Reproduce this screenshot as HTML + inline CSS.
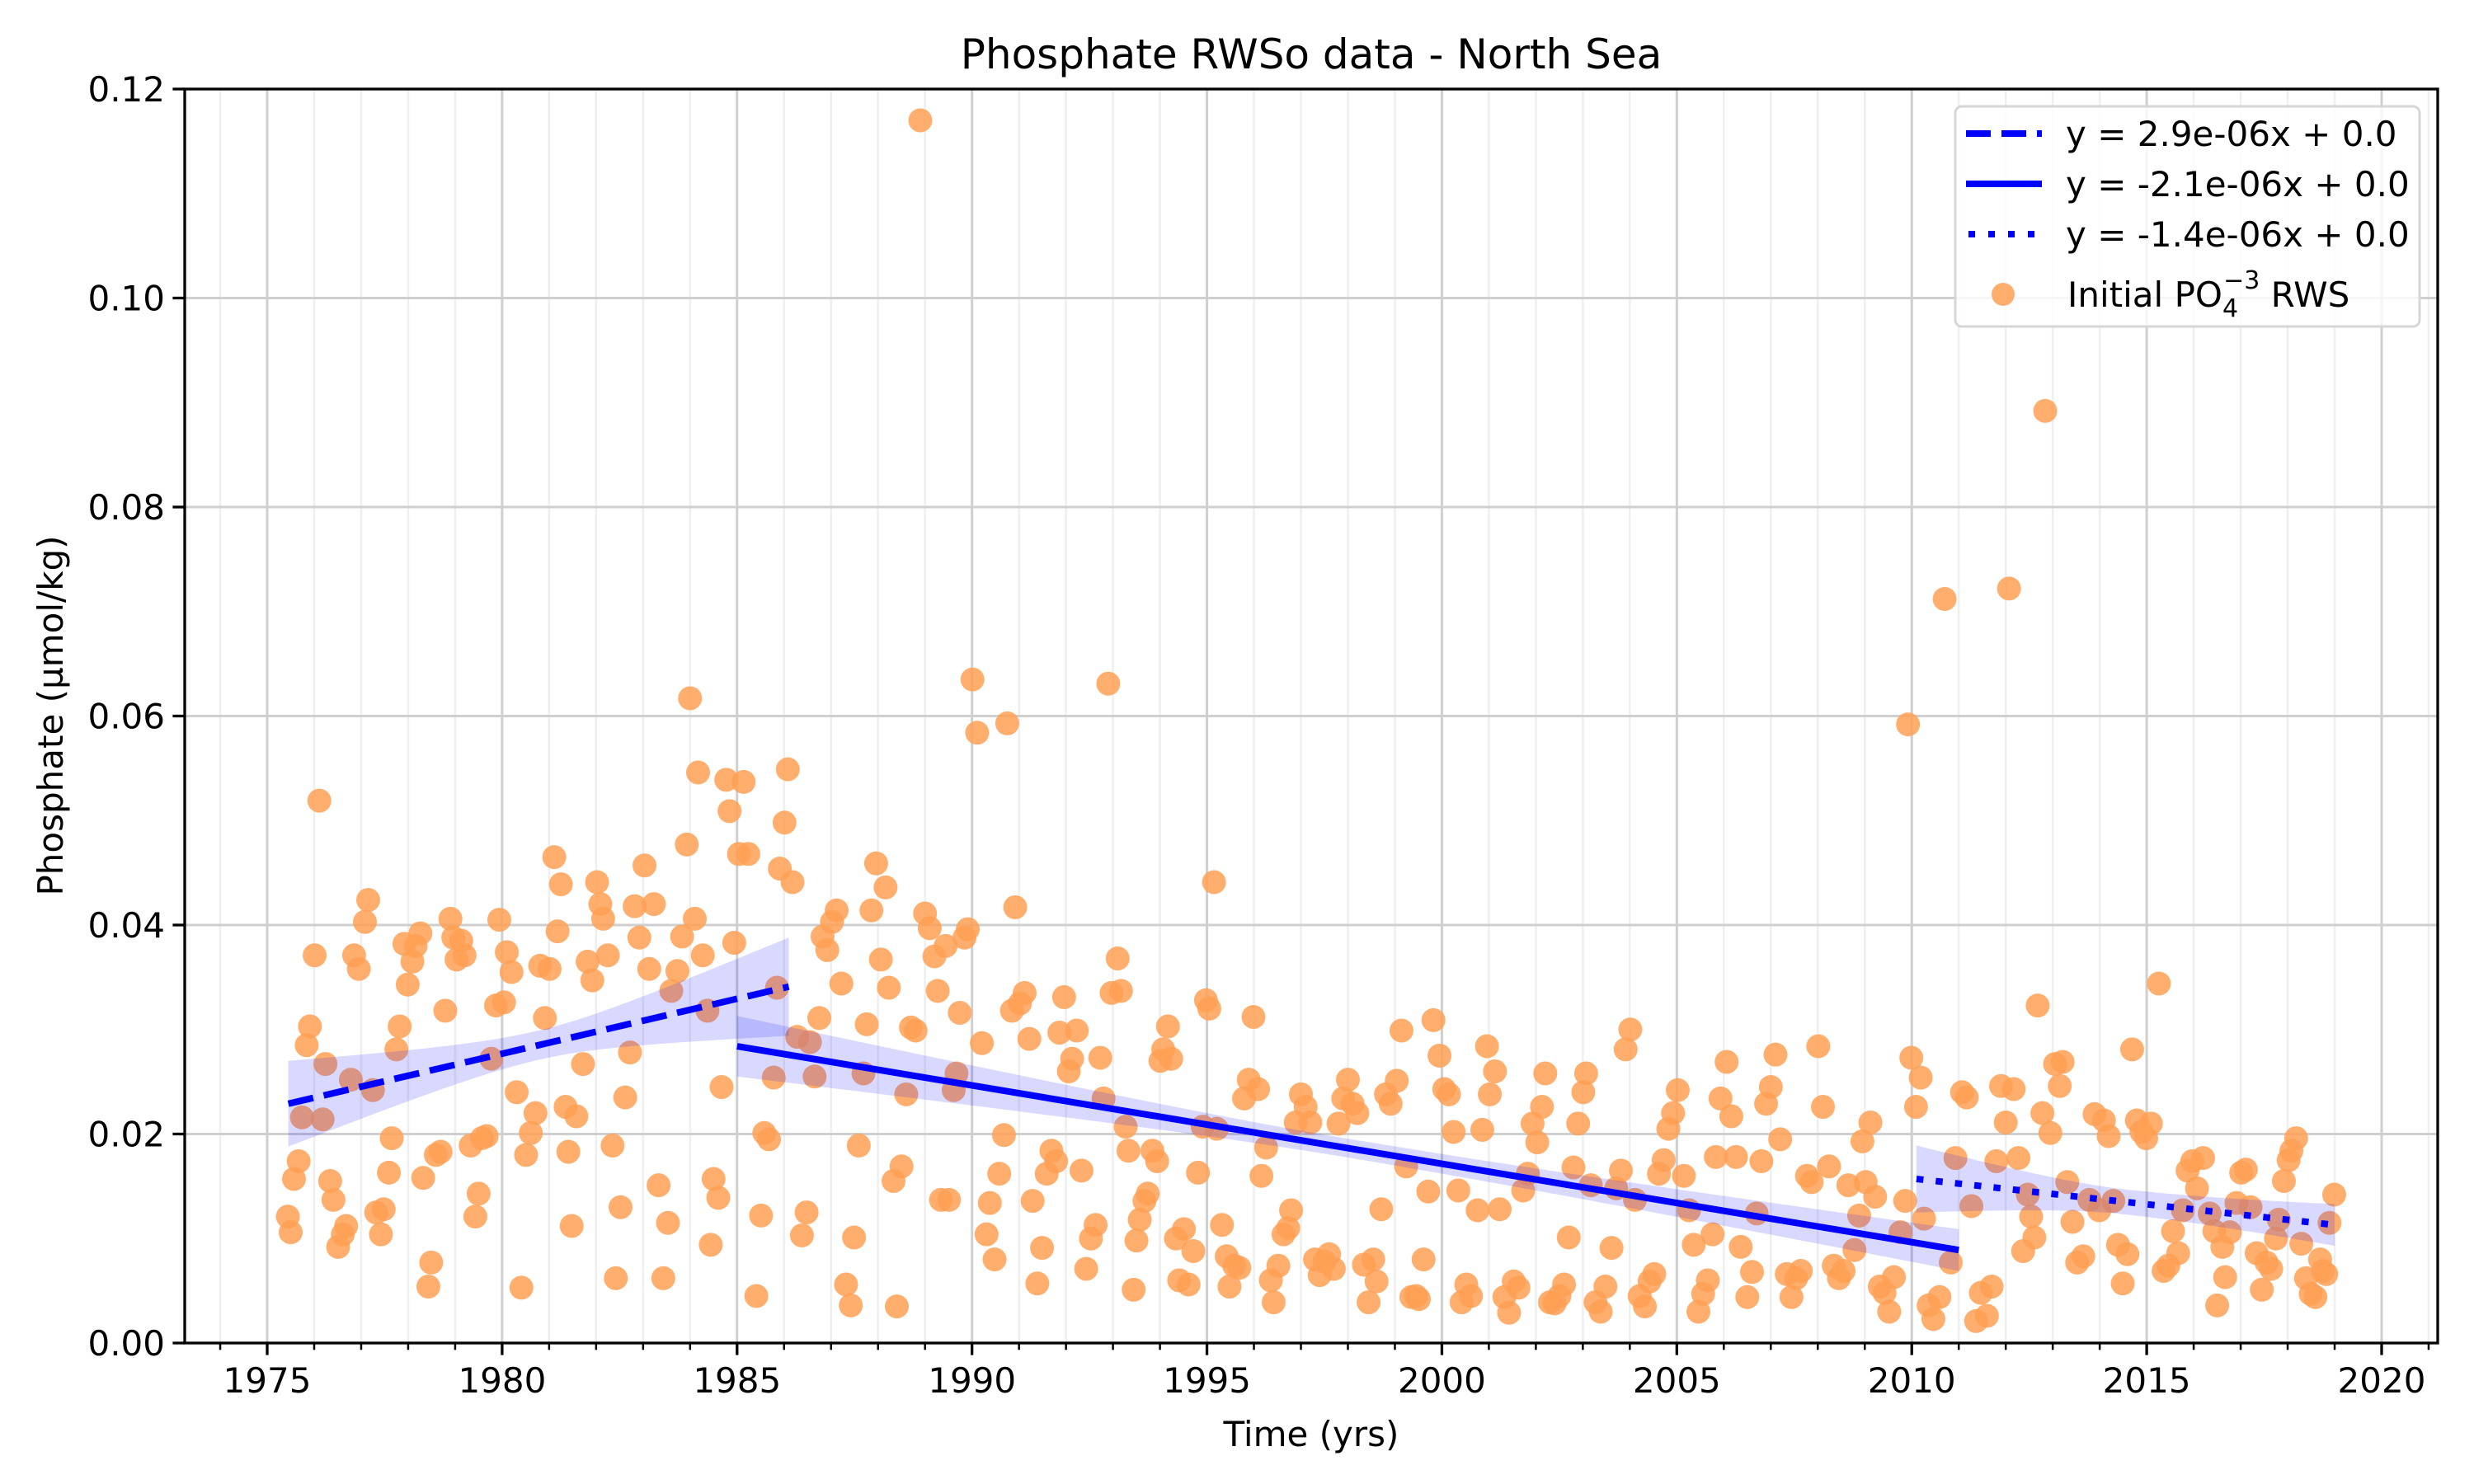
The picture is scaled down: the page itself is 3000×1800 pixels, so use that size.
<!DOCTYPE html>
<html><head><meta charset="utf-8"><style>
html,body{margin:0;padding:0;background:#fff}
svg{display:block;font-family:"DejaVu Sans","Liberation Sans",sans-serif}
</style></head><body>
<svg id="chart" xmlns="http://www.w3.org/2000/svg" width="3000" height="1800" viewBox="0 0 3000 1800">
<rect x="0" y="0" width="3000" height="1800" fill="#fff"/>
<g id="grid"></g>
<g id="points"></g>
<g id="bands"></g>
<g id="lines"></g>
<g id="axes"></g>
<text x="1590" y="83" font-size="50" text-anchor="middle">Phosphate RWSo data - North Sea</text>
<text x="1590" y="1754" font-size="42" text-anchor="middle">Time (yrs)</text>
<text x="0" y="0" font-size="42" text-anchor="middle" transform="translate(76,868) rotate(-90)">Phosphate (µmol/kg)</text>
<g id="legend">
<rect x="2371" y="129" width="563" height="267" rx="8" fill="#fff" fill-opacity="0.8" stroke="#d6d6d6" stroke-width="3"/>
<line x1="2384" y1="162" x2="2476" y2="162" stroke="#0000ff" stroke-width="8" stroke-dasharray="30 13"/>
<text x="2505" y="177" font-size="42">y = 2.9e-06x + 0.0</text>
<line x1="2384" y1="223" x2="2476" y2="223" stroke="#0000ff" stroke-width="8"/>
<text x="2505" y="238" font-size="42">y = -2.1e-06x + 0.0</text>
<line x1="2387" y1="284" x2="2476" y2="284" stroke="#0000ff" stroke-width="8" stroke-dasharray="8 16"/>
<text x="2505" y="299" font-size="42">y = -1.4e-06x + 0.0</text>
<circle cx="2429" cy="357" r="14" fill="rgb(255,160,85)" fill-opacity="0.85"/>
<text x="2507" y="372" font-size="42">Initial PO<tspan font-size="30" dy="12">4</tspan><tspan font-size="30" dx="-18" dy="-34">−3</tspan><tspan dy="22"> RWS</tspan></text>
</g>
</svg>
<script>
const years=[1975.44,1975.50,1975.57,1975.67,1975.74,1975.84,1975.91,1976.01,1976.11,1976.18,1976.24,1976.34,1976.41,1976.51,1976.61,1976.68,1976.78,1976.85,1976.95,1977.08,1977.15,1977.25,1977.32,1977.42,1977.48,1977.59,1977.65,1977.75,1977.82,1977.92,1977.99,1978.09,1978.16,1978.26,1978.32,1978.43,1978.49,1978.59,1978.69,1978.79,1978.90,1978.96,1979.03,1979.13,1979.20,1979.33,1979.43,1979.50,1979.57,1979.67,1979.77,1979.87,1979.94,1980.04,1980.10,1980.20,1980.31,1980.41,1980.51,1980.61,1980.71,1980.81,1980.91,1981.01,1981.11,1981.18,1981.25,1981.35,1981.41,1981.48,1981.58,1981.72,1981.82,1981.92,1982.02,1982.09,1982.15,1982.25,1982.35,1982.42,1982.52,1982.62,1982.72,1982.82,1982.92,1983.03,1983.13,1983.23,1983.33,1983.43,1983.53,1983.60,1983.73,1983.83,1983.93,1984.00,1984.10,1984.17,1984.27,1984.37,1984.44,1984.50,1984.60,1984.67,1984.77,1984.84,1984.94,1985.04,1985.14,1985.24,1985.41,1985.51,1985.58,1985.68,1985.78,1985.85,1985.91,1986.01,1986.08,1986.18,1986.28,1986.38,1986.48,1986.55,1986.65,1986.75,1986.82,1986.92,1987.02,1987.12,1987.22,1987.32,1987.42,1987.49,1987.59,1987.69,1987.76,1987.86,1987.96,1988.06,1988.16,1988.23,1988.33,1988.40,1988.50,1988.60,1988.70,1988.80,1988.90,1989.00,1989.10,1989.20,1989.27,1989.34,1989.44,1989.51,1989.61,1989.67,1989.74,1989.84,1989.91,1990.01,1990.11,1990.21,1990.31,1990.38,1990.48,1990.58,1990.68,1990.75,1990.85,1990.92,1991.02,1991.12,1991.22,1991.29,1991.39,1991.49,1991.59,1991.69,1991.79,1991.86,1991.96,1992.06,1992.13,1992.23,1992.33,1992.43,1992.53,1992.63,1992.73,1992.80,1992.90,1992.97,1993.10,1993.17,1993.27,1993.33,1993.44,1993.50,1993.57,1993.67,1993.74,1993.84,1993.94,1994.01,1994.07,1994.17,1994.24,1994.34,1994.41,1994.51,1994.61,1994.71,1994.81,1994.91,1994.98,1995.05,1995.15,1995.21,1995.32,1995.42,1995.48,1995.58,1995.69,1995.79,1995.89,1995.99,1996.09,1996.16,1996.26,1996.36,1996.42,1996.52,1996.63,1996.73,1996.79,1996.89,1997.00,1997.10,1997.20,1997.30,1997.40,1997.50,1997.60,1997.70,1997.80,1997.90,1998.00,1998.10,1998.20,1998.34,1998.44,1998.54,1998.61,1998.71,1998.81,1998.91,1999.04,1999.14,1999.24,1999.35,1999.45,1999.51,1999.61,1999.71,1999.82,1999.95,2000.05,2000.15,2000.25,2000.35,2000.42,2000.52,2000.62,2000.76,2000.86,2000.96,2001.02,2001.13,2001.23,2001.33,2001.43,2001.53,2001.63,2001.73,2001.83,2001.93,2002.03,2002.13,2002.20,2002.30,2002.40,2002.50,2002.60,2002.70,2002.80,2002.90,2003.01,2003.07,2003.17,2003.27,2003.38,2003.48,2003.61,2003.71,2003.81,2003.91,2004.01,2004.11,2004.21,2004.32,2004.42,2004.52,2004.62,2004.72,2004.82,2004.92,2005.02,2005.15,2005.26,2005.36,2005.46,2005.56,2005.66,2005.76,2005.83,2005.93,2006.06,2006.16,2006.26,2006.36,2006.50,2006.60,2006.70,2006.80,2006.90,2007.00,2007.10,2007.20,2007.34,2007.44,2007.54,2007.64,2007.77,2007.87,2008.01,2008.11,2008.24,2008.34,2008.45,2008.55,2008.65,2008.78,2008.88,2008.95,2009.02,2009.12,2009.22,2009.32,2009.42,2009.52,2009.62,2009.76,2009.86,2009.92,2009.99,2010.09,2010.19,2010.26,2010.36,2010.46,2010.59,2010.70,2010.83,2010.93,2011.07,2011.17,2011.27,2011.37,2011.47,2011.60,2011.70,2011.80,2011.90,2012.00,2012.07,2012.17,2012.27,2012.37,2012.47,2012.54,2012.61,2012.68,2012.78,2012.84,2012.95,2013.05,2013.15,2013.21,2013.31,2013.42,2013.52,2013.65,2013.78,2013.89,2013.99,2014.09,2014.19,2014.29,2014.39,2014.49,2014.59,2014.69,2014.79,2014.89,2014.99,2015.09,2015.26,2015.36,2015.46,2015.56,2015.67,2015.77,2015.87,2015.97,2016.07,2016.20,2016.34,2016.44,2016.50,2016.61,2016.67,2016.77,2016.91,2017.01,2017.11,2017.21,2017.34,2017.45,2017.55,2017.65,2017.75,2017.81,2017.92,2018.02,2018.08,2018.18,2018.29,2018.39,2018.49,2018.59,2018.69,2018.75,2018.82,2018.89,2018.99];
const phosphate=[0.0121,0.0106,0.0157,0.0174,0.0216,0.0285,0.0303,0.0371,0.0519,0.0214,0.0267,0.0155,0.0137,0.0092,0.0104,0.0112,0.0252,0.0371,0.0358,0.0403,0.0424,0.0242,0.0125,0.0104,0.0128,0.0163,0.0196,0.0281,0.0303,0.0382,0.0343,0.0365,0.0380,0.0392,0.0158,0.0054,0.0077,0.0180,0.0183,0.0318,0.0406,0.0388,0.0367,0.0385,0.0371,0.0189,0.0121,0.0143,0.0196,0.0198,0.0272,0.0323,0.0405,0.0326,0.0374,0.0355,0.0240,0.0053,0.0180,0.0201,0.0220,0.0361,0.0311,0.0358,0.0465,0.0394,0.0439,0.0226,0.0183,0.0112,0.0217,0.0267,0.0365,0.0347,0.0441,0.0420,0.0406,0.0371,0.0189,0.0062,0.0130,0.0235,0.0278,0.0418,0.0388,0.0457,0.0358,0.0420,0.0151,0.0062,0.0115,0.0337,0.0356,0.0389,0.0477,0.0617,0.0406,0.0546,0.0371,0.0318,0.0094,0.0157,0.0139,0.0245,0.0539,0.0509,0.0383,0.0468,0.0537,0.0468,0.0045,0.0122,0.0201,0.0195,0.0254,0.0340,0.0454,0.0498,0.0549,0.0441,0.0293,0.0103,0.0125,0.0288,0.0255,0.0311,0.0389,0.0376,0.0403,0.0414,0.0344,0.0056,0.0036,0.0101,0.0189,0.0258,0.0305,0.0414,0.0459,0.0367,0.0436,0.0340,0.0155,0.0035,0.0169,0.0238,0.0302,0.0299,0.1170,0.0411,0.0397,0.0370,0.0337,0.0137,0.0380,0.0137,0.0242,0.0258,0.0316,0.0388,0.0396,0.0635,0.0584,0.0287,0.0104,0.0134,0.0080,0.0162,0.0199,0.0593,0.0318,0.0417,0.0325,0.0335,0.0291,0.0136,0.0057,0.0091,0.0162,0.0184,0.0174,0.0297,0.0331,0.0260,0.0272,0.0299,0.0165,0.0071,0.0100,0.0113,0.0273,0.0234,0.0631,0.0335,0.0368,0.0337,0.0207,0.0184,0.0051,0.0098,0.0118,0.0136,0.0143,0.0184,0.0174,0.0270,0.0281,0.0303,0.0272,0.0100,0.0060,0.0109,0.0056,0.0088,0.0163,0.0207,0.0328,0.0320,0.0441,0.0205,0.0113,0.0083,0.0054,0.0074,0.0072,0.0234,0.0252,0.0312,0.0243,0.0160,0.0187,0.0060,0.0039,0.0074,0.0104,0.0110,0.0127,0.0211,0.0238,0.0226,0.0211,0.0080,0.0065,0.0078,0.0085,0.0071,0.0210,0.0234,0.0252,0.0229,0.0220,0.0075,0.0039,0.0080,0.0059,0.0128,0.0238,0.0229,0.0251,0.0299,0.0169,0.0044,0.0045,0.0042,0.0080,0.0145,0.0309,0.0275,0.0243,0.0238,0.0202,0.0146,0.0039,0.0056,0.0045,0.0127,0.0204,0.0284,0.0238,0.0260,0.0128,0.0044,0.0029,0.0059,0.0053,0.0146,0.0162,0.0210,0.0192,0.0226,0.0258,0.0039,0.0038,0.0045,0.0056,0.0101,0.0168,0.0210,0.0240,0.0258,0.0151,0.0039,0.0030,0.0054,0.0091,0.0148,0.0165,0.0281,0.0300,0.0137,0.0045,0.0035,0.0059,0.0066,0.0162,0.0175,0.0205,0.0220,0.0242,0.0160,0.0127,0.0094,0.0030,0.0047,0.0060,0.0104,0.0178,0.0234,0.0269,0.0217,0.0178,0.0092,0.0044,0.0068,0.0124,0.0174,0.0229,0.0245,0.0276,0.0195,0.0066,0.0044,0.0062,0.0069,0.0160,0.0154,0.0284,0.0226,0.0169,0.0074,0.0062,0.0069,0.0151,0.0089,0.0122,0.0193,0.0154,0.0211,0.0140,0.0054,0.0048,0.0030,0.0063,0.0106,0.0136,0.0592,0.0273,0.0226,0.0254,0.0119,0.0036,0.0023,0.0044,0.0712,0.0077,0.0177,0.0240,0.0235,0.0131,0.0021,0.0048,0.0026,0.0054,0.0174,0.0246,0.0211,0.0722,0.0243,0.0177,0.0088,0.0142,0.0121,0.0101,0.0323,0.0220,0.0892,0.0201,0.0267,0.0246,0.0269,0.0154,0.0116,0.0077,0.0083,0.0137,0.0219,0.0127,0.0213,0.0198,0.0136,0.0094,0.0057,0.0085,0.0281,0.0213,0.0202,0.0196,0.0210,0.0344,0.0069,0.0074,0.0107,0.0086,0.0127,0.0165,0.0174,0.0148,0.0177,0.0124,0.0107,0.0036,0.0092,0.0063,0.0106,0.0134,0.0163,0.0166,0.0130,0.0086,0.0051,0.0077,0.0071,0.0100,0.0118,0.0155,0.0175,0.0184,0.0196,0.0095,0.0062,0.0047,0.0044,0.0080,0.0069,0.0066,0.0115,0.0142];
const fitNames=['fit-1975-1986','fit-1985-2011','fit-2010-2019'];
const fitStartX=[1975.45,1985.0,2010.1];
const fitEndX=[1986.1,2011.0,2019.0];
const fitStartY=[0.0229,0.0284,0.0157];
const fitEndY=[0.0341,0.0089,0.0113];
const bandHalfStart=[0.0041,0.0029,0.0032];
const bandHalfMid=[0.0014,0.0009,0.0012];
const bandHalfEnd=[0.0047,0.0020,0.0020];
const xTickLabels=['1975','1980','1985','1990','1995','2000','2005','2010','2015','2020'];
const yTickLabels=['0.00','0.02','0.04','0.06','0.08','0.10','0.12'];

const NS='http://www.w3.org/2000/svg';
const L=224,R=2956,T=108,B=1629;
const X0=1975,X1=2020,PX0=324,PX1=2888;
const xs=v=>PX0+(v-X0)*(PX1-PX0)/(X1-X0);
const ys=v=>B-(v/0.12)*(B-T);
function mk(tag,attrs,parent){const e=document.createElementNS(NS,tag);for(const k in attrs)e.setAttribute(k,attrs[k]);parent.appendChild(e);return e;}
const grid=document.getElementById('grid'),axes=document.getElementById('axes');
const xMin=X0-(PX0-L)*(X1-X0)/(PX1-PX0),xMax=X0+(R-PX0)*(X1-X0)/(PX1-PX0);
for(let y=Math.ceil(xMin);y<=xMax;y++){
  const major=(y%5===0),x=xs(y);
  const g=mk('line',{x1:x,x2:x,y1:T,y2:B,stroke:major?'#cfcfcf':'#efefef','stroke-width':major?3:2.5},grid);
  
  
  const t=mk('line',{x1:x,x2:x,y1:B,y2:B+(major?14.6:8.3),stroke:'#000','stroke-width':major?3.3:2.5},axes);
  
  
}
xTickLabels.forEach(s=>{
  const tx=mk('text',{x:xs(+s),y:1689,'font-size':42,'text-anchor':'middle'},axes);tx.textContent=s;
  
  
});
yTickLabels.forEach(s=>{
  const y=ys(+s);
  if(+s>0&&+s<0.12){const g=mk('line',{x1:L,x2:R,y1:y,y2:y,stroke:'#cfcfcf','stroke-width':3},grid);
  
  }
  const t=mk('line',{x1:L-14.6,x2:L,y1:y,y2:y,stroke:'#000','stroke-width':3.3},axes);
  
  
  const tx=mk('text',{x:L-24,y:y+15,'font-size':42,'text-anchor':'end'},axes);tx.textContent=s;
  
  
});
const frame=mk('rect',{x:L,y:T,width:R-L,height:B-T,fill:'none',stroke:'#000','stroke-width':3.3},axes);



const pts=document.getElementById('points');
years.forEach((yr,i)=>{
  const c=mk('circle',{cx:xs(yr),cy:ys(phosphate[i]),r:14.5,fill:'rgb(255,160,85)','fill-opacity':0.85},pts);
  
  
});

const bands=document.getElementById('bands'),lines=document.getElementById('lines');
const dashes=['31 13','none','8.5 15'];
fitNames.forEach((n,i)=>{
  const x0=fitStartX[i],x1=fitEndX[i],y0=fitStartY[i],y1=fitEndY[i];
  const m=bandHalfMid[i],N=40,up=[],lo=[];
  for(let k=0;k<=N;k++){
    const t=-1+2*k/N,x=x0+(x1-x0)*k/N,yc=y0+(y1-y0)*k/N;
    const e=t<0?bandHalfStart[i]:bandHalfEnd[i];
    const h=Math.sqrt(m*m+t*t*(e*e-m*m));
    up.push(xs(x).toFixed(1)+','+ys(yc+h).toFixed(1));
    lo.unshift(xs(x).toFixed(1)+','+ys(yc-h).toFixed(1));
  }
  const p=mk('polygon',{points:up.concat(lo).join(' '),fill:'#0000ff','fill-opacity':0.15,stroke:'none'},bands);
  
  
  const ln=mk('line',{x1:xs(x0),y1:ys(y0),x2:xs(x1),y2:ys(y1),stroke:'#0000ff','stroke-width':8,'stroke-dasharray':dashes[i]},lines);
  
  
});
</script>
</body></html>
